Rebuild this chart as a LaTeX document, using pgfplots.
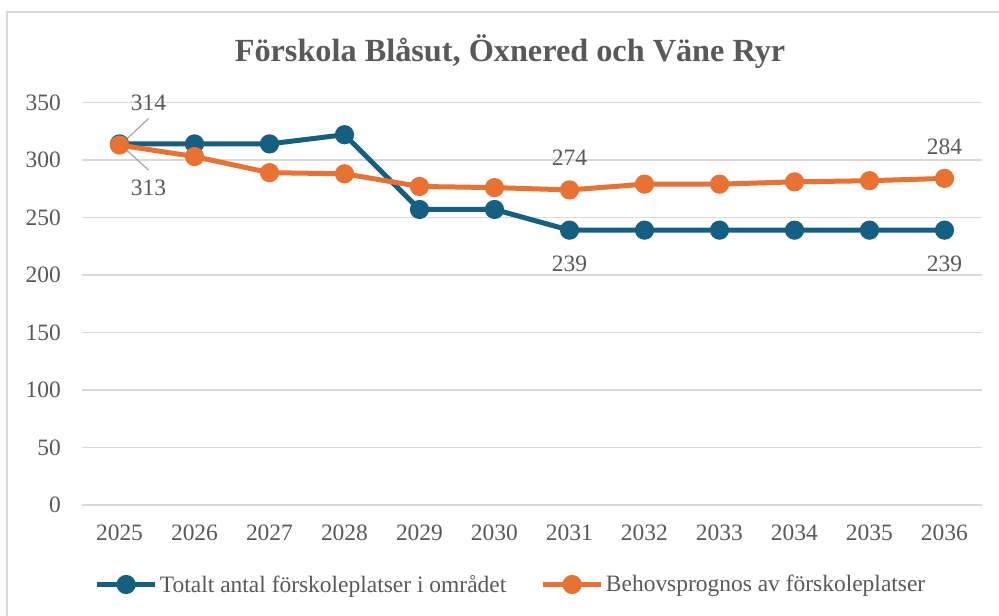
\documentclass[border=0pt]{standalone}
\usepackage{pgfplots}
\pgfplotsset{compat=1.18}
\usepackage{fontspec}
\setmainfont{Liberation Serif}
\definecolor{cblue}{HTML}{156082}
\definecolor{corange}{HTML}{E97132}
\definecolor{ctext}{HTML}{595959}
\definecolor{cgrid}{HTML}{D9D9D9}
\definecolor{clead}{HTML}{A6A6A6}
\begin{document}
\begin{tikzpicture}[x=1pt,y=1pt]
\useasboundingbox (0,0) rectangle (749.25,-461.25);
\draw[cgrid, line width=1pt] (5.25,-9) rectangle (800,-520);
\node[anchor=base, font=\fontsize{24.2}{28}\selectfont\bfseries, text=ctext, inner sep=0pt] at (382.5,-46.3) {Förskola Blåsut, Öxnered och Väne Ryr};
\begin{axis}[
  at={(61.5pt,-378.75pt)}, anchor=south west,
  scale only axis, width=675pt, height=301.875pt,
  xmin=2024.5, xmax=2036.5, ymin=0, ymax=350,
  xtick={2025,...,2036}, ytick={0,50,...,350},
  /pgf/number format/1000 sep={},
  /pgf/number format/assume math mode=true,
  axis line style={draw=none}, tick style={draw=none},
  ymajorgrids, major grid style={cgrid, line width=1.1pt},
  ticklabel style={font=\fontsize{17.6}{21}\selectfont, text=ctext, inner sep=0pt},
  xticklabel style={yshift=-15pt},
  yticklabel style={xshift=-15.75pt},
  legend columns=2,
  legend style={at={(0.4772,-0.1975)}, anchor=center, draw=none, fill=none,
    font=\fontsize{17.6}{21}\selectfont, text=ctext,
    nodes={inner xsep=2pt},
    /tikz/every even column/.append style={column sep=24pt}},
  legend image code/.code={\draw[mark repeat=2,mark phase=2,#1] plot coordinates {(0pt,0pt) (21.5pt,0pt) (43pt,0pt)};},
  clip=false,
]
\addplot[cblue, line width=3.75pt, mark=*, mark size=5.3pt, mark options={solid}] coordinates {
(2025,314) (2026,314) (2027,314) (2028,322) (2029,257) (2030,257) (2031,239) (2032,239) (2033,239) (2034,239) (2035,239) (2036,239)};
\addlegendentry{Totalt antal förskoleplatser i området}
\addplot[corange, line width=3.75pt, mark=*, mark size=5.3pt, mark options={solid}] coordinates {
(2025,313) (2026,303) (2027,289) (2028,288) (2029,277) (2030,276) (2031,274) (2032,279) (2033,279) (2034,281) (2035,282) (2036,284)};
\addlegendentry{Behovsprognos av förskoleplatser}
\begin{scope}[every node/.style={font=\fontsize{17.6}{21}\selectfont, text=ctext, inner sep=0pt}]
\draw[clead, line width=0.9pt] ([shift={(2.5pt,1pt)}]axis cs:2025,314) -- ([shift={(21.75pt,19pt)}]axis cs:2025,314);
\draw[clead, line width=0.9pt] ([shift={(2pt,-0.75pt)}]axis cs:2025,313) -- ([shift={(21.75pt,-18.75pt)}]axis cs:2025,313);
\node at ([shift={(21.75pt,31pt)}]axis cs:2025,314) {314};
\node at ([shift={(21.75pt,-32.25pt)}]axis cs:2025,313) {313};
\node at ([shift={(0pt,24pt)}]axis cs:2031,274) {274};
\node at ([shift={(0pt,-25.5pt)}]axis cs:2031,239) {239};
\node at ([shift={(0pt,23.6pt)}]axis cs:2036,284) {284};
\node at ([shift={(0pt,-25.5pt)}]axis cs:2036,239) {239};
\end{scope}
\end{axis}
\end{tikzpicture}
\end{document}
